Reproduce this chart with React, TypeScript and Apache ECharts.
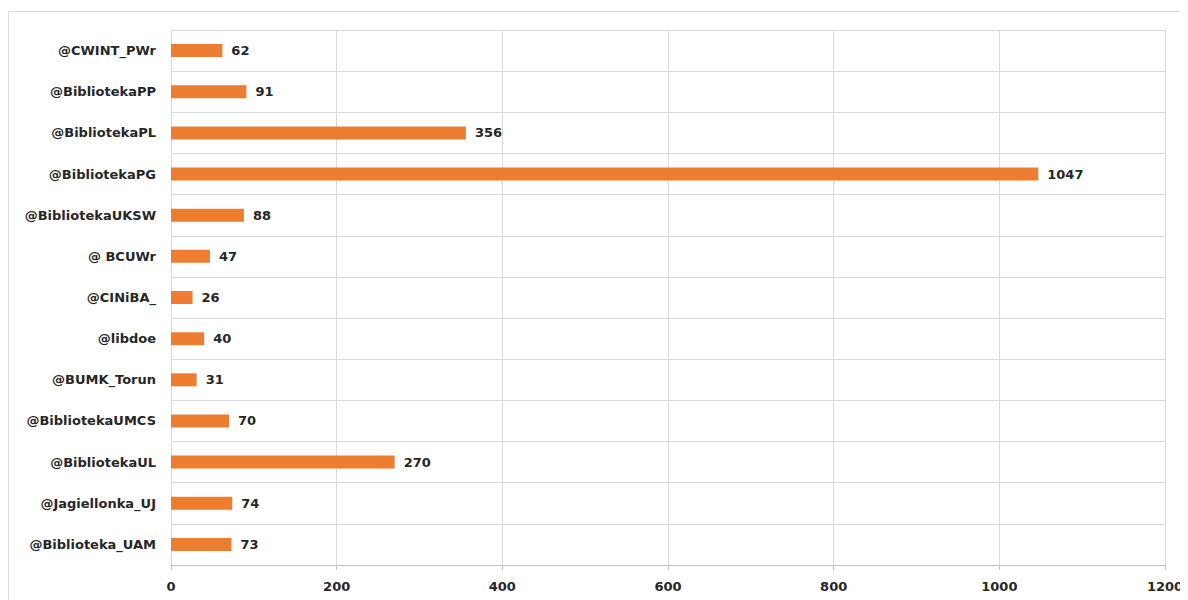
import React, { useEffect, useRef } from "react";
import * as echarts from "echarts";

const categories = [
  "@CWINT_PWr",
  "@BibliotekaPP",
  "@BibliotekaPL",
  "@BibliotekaPG",
  "@BibliotekaUKSW",
  "@ BCUWr",
  "@CINiBA_",
  "@libdoe",
  "@BUMK_Torun",
  "@BibliotekaUMCS",
  "@BibliotekaUL",
  "@Jagiellonka_UJ",
  "@Biblioteka_UAM",
];
const values = [62, 91, 356, 1047, 88, 47, 26, 40, 31, 70, 270, 74, 73];
const xMin = 0;
const xMax = 1200;
const xInterval = 200;

const FONT = "'DejaVu Sans', sans-serif";

export default function App() {
  const ref = useRef<HTMLDivElement>(null);
  useEffect(() => {
    if (!ref.current) return;
    const chart = echarts.init(ref.current, null, { renderer: "svg" });
    chart.setOption({
      animation: false,
      graphic: [
        {
          type: "rect",
          shape: { x: 0.5, y: 3.5, width: 1200, height: 620 },
          style: { fill: "none", stroke: "#d9d9d9", lineWidth: 1 },
          silent: true,
        },
      ],
      grid: { left: 163, top: 22, right: 23, bottom: 35, containLabel: false },
      xAxis: {
        type: "value",
        min: xMin,
        max: xMax,
        interval: xInterval,
        axisLine: { show: true, lineStyle: { color: "#bfbfbf" } },
        axisTick: { show: true, length: 5, lineStyle: { color: "#bfbfbf" } },
        axisLabel: {
          color: "#262626",
          fontWeight: "bold",
          fontSize: 13,
          fontFamily: FONT,
          margin: 15,
          formatter: (v: number) => String(v),
        },
        splitLine: { show: true, lineStyle: { color: "#d9d9d9" } },
      },
      yAxis: {
        type: "category",
        data: categories,
        inverse: true,
        axisLine: { show: true, lineStyle: { color: "#d9d9d9" } },
        axisTick: { show: false },
        axisLabel: {
          color: "#262626",
          fontWeight: "bold",
          fontSize: 13,
          fontFamily: FONT,
          margin: 15,
        },
        splitLine: { show: true, lineStyle: { color: "#d9d9d9" } },
      },
      series: [
        {
          type: "bar",
          data: values,
          barWidth: 13,
          itemStyle: { color: "#ED7D31" },
          label: {
            show: true,
            position: "right",
            distance: 9,
            color: "#262626",
            fontWeight: "bold",
            fontSize: 13,
            fontFamily: FONT,
          },
        },
      ],
    });
    return () => chart.dispose();
  }, []);
  return <div ref={ref} style={{ width: 1180, height: 592 }} />;
}
